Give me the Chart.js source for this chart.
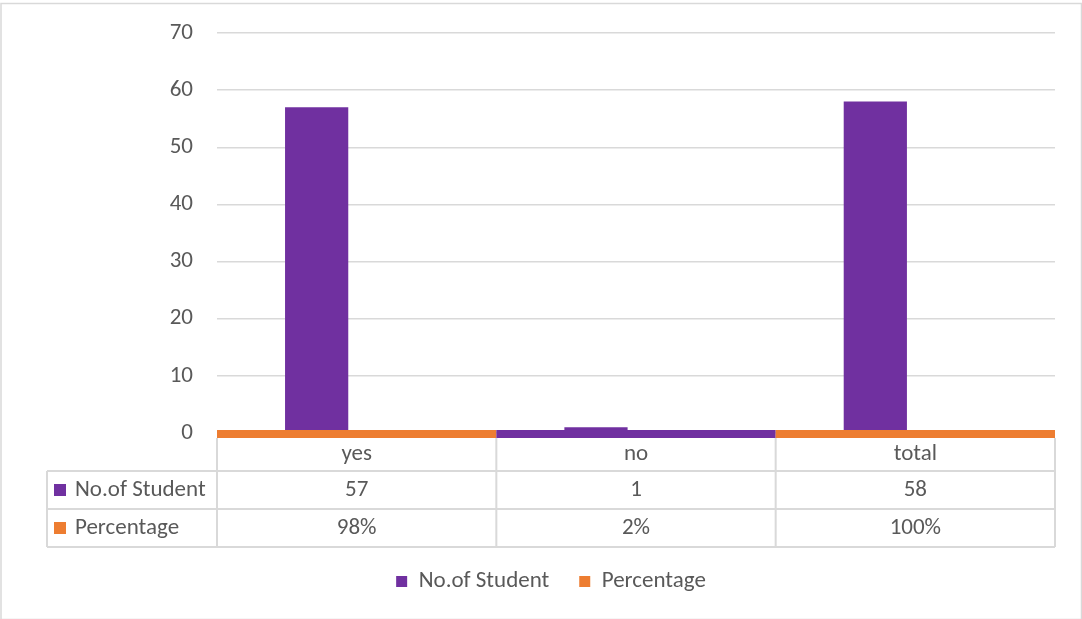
<!DOCTYPE html>
<html>
<head>
<meta charset="utf-8">
<script src="https://cdn.jsdelivr.net/npm/chart.js@4.4.0/dist/chart.umd.min.js"></script>
<style>
html, body { margin: 0; padding: 0; background: #fff; }
#wrap { width: 1082px; height: 619px; position: relative; }
</style>
</head>
<body>
<div id="wrap"><canvas id="chart" width="1082" height="619"></canvas></div>
<script>
const categories = ['yes', 'no', 'total'];
const students = [57, 1, 58];
const percentage = [0.98, 0.02, 1.00];
const seriesNames = ['No.of Student', 'Percentage'];
const seriesColors = ['#7030A0', '#ED7D31'];
// which series colour shows on the baseline strip for each category
const baselineSeries = [1, 0, 1];
const yTicks = [0, 10, 20, 30, 40, 50, 60, 70];

const FONT = 'Carlito, "Open Sans", sans-serif';
const FSIZE = 23;
const TEXT = '#595959';
const LINE = '#d9d9d9';

const pctText = v => Math.round(v * 100) + '%';

// outer border of the chart
const frame = {
  id: 'frame',
  beforeDraw(chart) {
    const ctx = chart.ctx;
    ctx.save();
    ctx.strokeStyle = LINE;
    ctx.lineWidth = 1.5;
    ctx.strokeRect(1, 3.5, chart.width - 1.5, chart.height - 3);
    ctx.restore();
  }
};

// coloured strip along the zero line
const baseline = {
  id: 'baseline',
  afterDatasetsDraw(chart) {
    const ctx = chart.ctx;
    const x = chart.scales.x, y = chart.scales.y;
    const half = (x.getPixelForValue(1) - x.getPixelForValue(0)) / 2;
    const y0 = y.getPixelForValue(0);
    ctx.save();
    categories.forEach((c, i) => {
      const cx = x.getPixelForValue(i);
      ctx.fillStyle = seriesColors[baselineSeries[i]];
      ctx.fillRect(cx - half, y0 - 3, half * 2, 8);
    });
    ctx.restore();
  }
};

// data table under the plot
const dataTable = {
  id: 'dataTable',
  afterDraw(chart) {
    const ctx = chart.ctx;
    const x = chart.scales.x;
    const area = chart.chartArea;
    const half = (x.getPixelForValue(1) - x.getPixelForValue(0)) / 2;
    const top = area.bottom + 5;
    const rows = [top, top + 33, top + 71, top + 109];
    const leftEdge = 47;
    ctx.save();
    ctx.strokeStyle = LINE;
    ctx.lineWidth = 2;
    ctx.beginPath();
    // horizontal rules
    ctx.moveTo(leftEdge, rows[1]); ctx.lineTo(area.right, rows[1]);
    ctx.moveTo(leftEdge, rows[2]); ctx.lineTo(area.right, rows[2]);
    ctx.moveTo(leftEdge, rows[3]); ctx.lineTo(area.right, rows[3]);
    // vertical rules
    ctx.moveTo(leftEdge, rows[1]); ctx.lineTo(leftEdge, rows[3]);
    categories.forEach((c, i) => {
      const xl = x.getPixelForValue(i) - half;
      ctx.moveTo(xl, top); ctx.lineTo(xl, rows[3]);
    });
    ctx.moveTo(area.right, top); ctx.lineTo(area.right, rows[3]);
    ctx.stroke();

    ctx.font = FSIZE + 'px ' + FONT;
    ctx.fillStyle = TEXT;
    ctx.textBaseline = 'middle';
    ctx.textAlign = 'center';
    const series = [students, percentage.map(pctText)];
    categories.forEach((c, i) => {
      const cx = x.getPixelForValue(i);
      ctx.fillText(c, cx, (rows[0] + rows[1]) / 2);
      ctx.fillText(String(series[0][i]), cx, (rows[1] + rows[2]) / 2);
      ctx.fillText(series[1][i], cx, (rows[2] + rows[3]) / 2);
    });
    ctx.textAlign = 'left';
    seriesNames.forEach((n, k) => {
      const my = (rows[k + 1] + rows[k + 2]) / 2;
      ctx.fillStyle = seriesColors[k];
      ctx.fillRect(54, my - 6, 12, 12);
      ctx.fillStyle = TEXT;
      ctx.fillText(n, 75, my);
    });
    ctx.restore();
  }
};

new Chart(document.getElementById('chart'), {
  type: 'bar',
  data: {
    labels: categories,
    datasets: [
      { label: seriesNames[0], data: students, backgroundColor: seriesColors[0] },
      // percentages are under one unit, their bars stay hidden under the baseline strip
      { label: seriesNames[1], data: percentage, backgroundColor: seriesColors[1],
        clip: { left: 0, top: 0, right: 0, bottom: -7 } }
    ]
  },
  options: {
    responsive: false,
    animation: false,
    categoryPercentage: 0.573,
    barPercentage: 0.79,
    layout: { padding: { left: 47, right: 27, top: 33, bottom: 16 } },
    plugins: {
      tooltip: { enabled: false },
      legend: {
        position: 'bottom',
        labels: {
          color: TEXT,
          font: { family: FONT, size: FSIZE },
          boxWidth: 11,
          boxHeight: 11,
          padding: 30
        }
      }
    },
    scales: {
      x: {
        grid: { display: false },
        border: { display: false },
        ticks: { display: false },
        afterFit(s) { s.height = 107; }
      },
      y: {
        min: 0,
        max: 70,
        afterFit(s) { s.width = 170; s.paddingTop = 0; s.paddingBottom = 0; },
        afterBuildTicks(s) { s.ticks = yTicks.map(v => ({ value: v })); },
        grid: { color: LINE, lineWidth: 1.5, drawTicks: false },
        border: { display: false },
        ticks: {
          color: TEXT,
          font: { family: FONT, size: FSIZE },
          padding: 24
        }
      }
    }
  },
  plugins: [frame, baseline, dataTable]
});
</script>
</body>
</html>
